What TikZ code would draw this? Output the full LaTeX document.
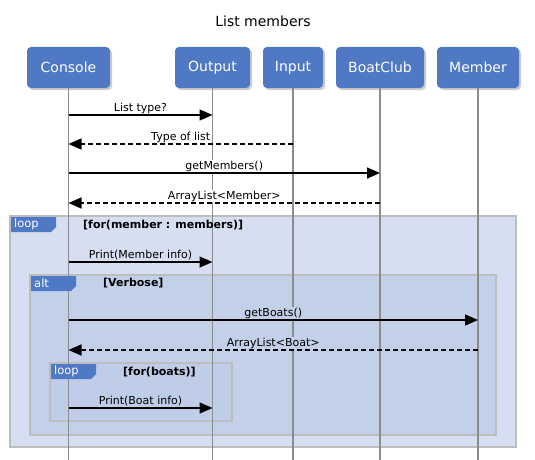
\documentclass[tikz,border=0pt]{standalone}
\usepackage{fontspec}
\setmainfont{DejaVu Sans}
\usetikzlibrary{arrows.meta,shadows,calc}
\definecolor{pblue}{HTML}{4F78C5}
\definecolor{lifegray}{HTML}{8C8C8C}
\definecolor{framegray}{HTML}{BDBDBD}
\definecolor{loopfill}{HTML}{D6DFF1}
\definecolor{altfill}{HTML}{C3D0EA}
\definecolor{innerfill}{HTML}{BFCDE8}
\tikzset{
 participant/.style={fill=pblue, rounded corners=4pt, text=white, font=\fontsize{14}{16}\selectfont, minimum height=41pt, inner sep=0pt, drop shadow={opacity=0.4, shadow xshift=2pt, shadow yshift=-2pt}},
 lifeline/.style={draw=lifegray, line width=1.5pt},
 frame/.style={draw=framegray, line width=1.5pt},
 tagshape/.style={fill=pblue},
 tagtext/.style={text=white, font=\fontsize{11.5}{13}\selectfont, anchor=west, inner sep=0pt},
 guard/.style={font=\bfseries\fontsize{11}{13}\selectfont, anchor=west, inner sep=0pt},
 msg/.style={line width=1.5pt, -{Triangle[length=13pt,width=11pt]}},
 reply/.style={msg, dash pattern=on 5pt off 3pt},
 msglabel/.style={font=\fontsize{11}{13}\selectfont, anchor=base, inner sep=1pt},
}
\begin{document}
\begin{tikzpicture}[x=1pt,y=-1pt]
\useasboundingbox (0,0) rectangle (535,460);
% title
\node[font=\fontsize{14}{16}\selectfont] (title) at (263,21) {List members};
% participants
\node[participant, minimum width=83pt] (console) at (68.5,67.5) {Console};
\node[participant, minimum width=75pt] (output) at (212.5,67.5) {Output};
\node[participant, minimum width=60pt] (input) at (293,67.5) {Input};
\node[participant, minimum width=88pt] (boatclub) at (380,67.5) {BoatClub};
\node[participant, minimum width=82pt] (member) at (478,67.5) {Member};
% frames
\draw[frame, fill=loopfill] (10,216) rectangle (516,447);
\draw[frame, fill=altfill] (30,275) rectangle (496,435);
\draw[frame, fill=innerfill] (50,363) rectangle (232,421);
% lifelines
\foreach \p in {console,output,input,boatclub,member}{
  \coordinate (\p End) at (\p |- 0,460);
  \draw[lifeline] (\p.south) -- (\p End);
}
% message end points
\coordinate (m1a) at (console |- 0,115); \coordinate (m1b) at (output |- 0,115);
\coordinate (m2a) at (input |- 0,144); \coordinate (m2b) at (console |- 0,144);
\coordinate (m3a) at (console |- 0,173); \coordinate (m3b) at (boatclub |- 0,173);
\coordinate (m4a) at (boatclub |- 0,203); \coordinate (m4b) at (console |- 0,203);
\coordinate (m5a) at (console |- 0,262); \coordinate (m5b) at (output |- 0,262);
\coordinate (m6a) at (console |- 0,320); \coordinate (m6b) at (member |- 0,320);
\coordinate (m7a) at (member |- 0,350); \coordinate (m7b) at (console |- 0,350);
\coordinate (m8a) at (console |- 0,408); \coordinate (m8b) at (output |- 0,408);
% labels
\path ($(m1a)!0.5!(m1b)$) ++(0,-4) node[msglabel, fill=white] (l1) {List type?};
\path ($(m2a)!0.5!(m2b)$) ++(0,-4) node[msglabel, fill=white] (l2) {Type of list};
\path ($(m3a)!0.5!(m3b)$) ++(0,-4) node[msglabel, fill=white] (l3) {getMembers()};
\path ($(m4a)!0.5!(m4b)$) ++(0,-4) node[msglabel, fill=white] (l4) {ArrayList<Member>};
\path ($(m5a)!0.5!(m5b)$) ++(0,-4) node[msglabel, fill=loopfill] (l5) {Print(Member info)};
\path ($(m6a)!0.5!(m6b)$) ++(0,-4) node[msglabel, fill=altfill] (l6) {getBoats()};
\path ($(m7a)!0.5!(m7b)$) ++(0,-4) node[msglabel, fill=altfill] (l7) {ArrayList<Boat>};
\path ($(m8a)!0.5!(m8b)$) ++(0,-4) node[msglabel, fill=innerfill] (l8) {Print(Boat info)};
% arrows
\draw[msg] (m1a) -- (m1b);
\draw[reply] (m2a) -- (m2b);
\draw[msg] (m3a) -- (m3b);
\draw[reply] (m4a) -- (m4b);
\draw[msg] (m5a) -- (m5b);
\draw[msg] (m6a) -- (m6b);
\draw[reply] (m7a) -- (m7b);
\draw[msg] (m8a) -- (m8b);
% tags
\fill[tagshape] (11,217) -- (56,217) -- (56,227) -- (51,232) -- (11,232) -- cycle;
\node[tagtext] (t1) at (14,224.5) {loop};
\fill[tagshape] (31,276) -- (76,276) -- (76,286) -- (71,291) -- (31,291) -- cycle;
\node[tagtext] (t2) at (34,283.5) {alt};
\fill[tagshape] (51,364) -- (96,364) -- (96,374) -- (91,379) -- (51,379) -- cycle;
\node[tagtext] (t3) at (54,371.5) {loop};
% guards
\node[guard] (g1) at (83,225) {[for(member : members)]};
\node[guard] (g2) at (103,283) {[Verbose]};
\node[guard] (g3) at (123,372) {[for(boats)]};
\end{tikzpicture}
\end{document}
